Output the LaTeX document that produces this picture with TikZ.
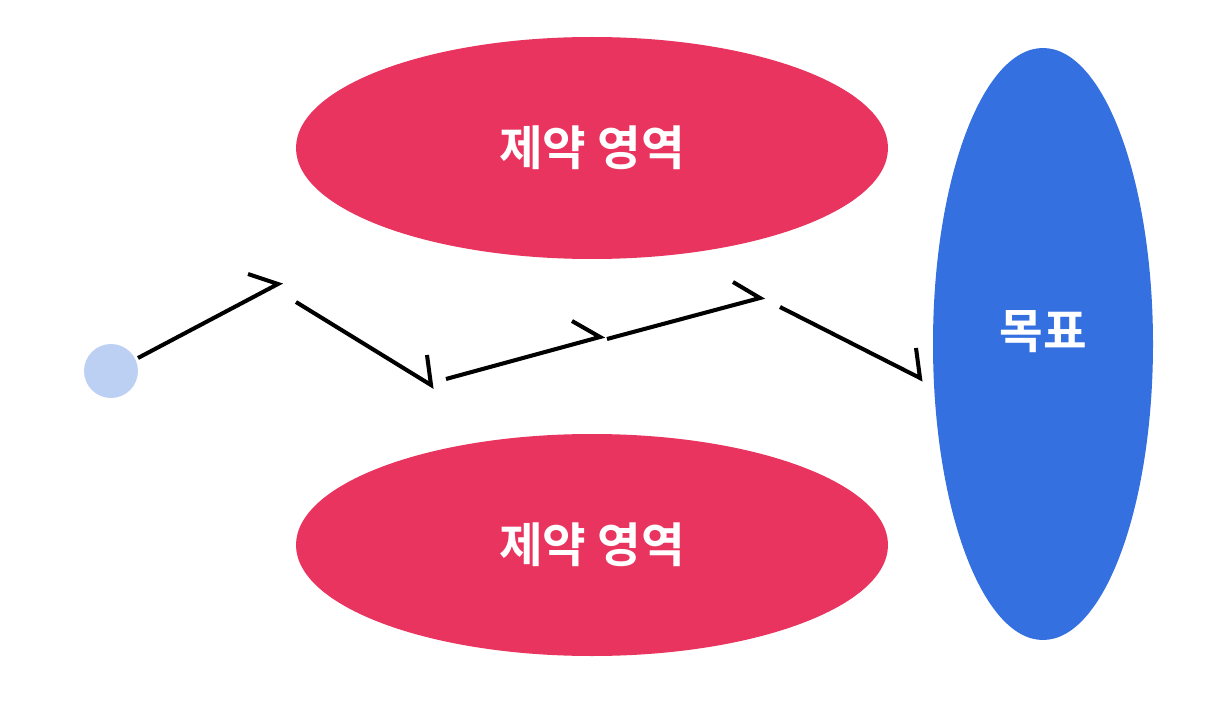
\documentclass[tikz,border=0pt]{standalone}
\usepackage{fontspec}
\newfontfamily\kr{Noto Sans CJK KR}[BoldFont={Noto Sans CJK KR Bold}]
\begin{document}
\begin{tikzpicture}[x=0.02cm,y=-0.02cm,
  zone/.style={fill=none,draw=none,text=white,font=\kr\bfseries\fontsize{27}{30}\selectfont},
  seg/.style={line width=2.3pt,black,line join=miter}]
\definecolor{zred}{HTML}{E8345E}
\definecolor{zblue}{HTML}{3470E0}
\definecolor{zdot}{HTML}{BCD0F4}
\useasboundingbox (0,0) rectangle (1218,706);
\fill[zred] (592,148) ellipse [x radius=296,y radius=111];
\node[zone] (z1) at (592,148) {제약 영역};
\fill[zred] (592,545) ellipse [x radius=296,y radius=111];
\node[zone] (z2) at (592,545) {제약 영역};
\fill[zblue] (1043,344) ellipse [x radius=110,y radius=296];
\node[zone] (goal) at (1043,332) {목표};
\node[circle,fill=zdot,minimum size=1.08cm,inner sep=0] (dot) at (111,371) {};
\coordinate (a1) at (138,358); \coordinate (t1) at (278,284); \coordinate (b1) at (248,274);
\coordinate (a2) at (296,302); \coordinate (t2) at (431,385); \coordinate (b2) at (427,355);
\coordinate (a3) at (446,379); \coordinate (t3) at (600,337); \coordinate (b3) at (572,321);
\coordinate (a4) at (607,339); \coordinate (t4) at (760,298); \coordinate (b4) at (733,282);
\coordinate (a5) at (780,307); \coordinate (t5) at (920,378); \coordinate (b5) at (916,348);
\foreach \i in {1,...,5} \draw[seg] (a\i) -- (t\i) -- (b\i);
\end{tikzpicture}
\end{document}
